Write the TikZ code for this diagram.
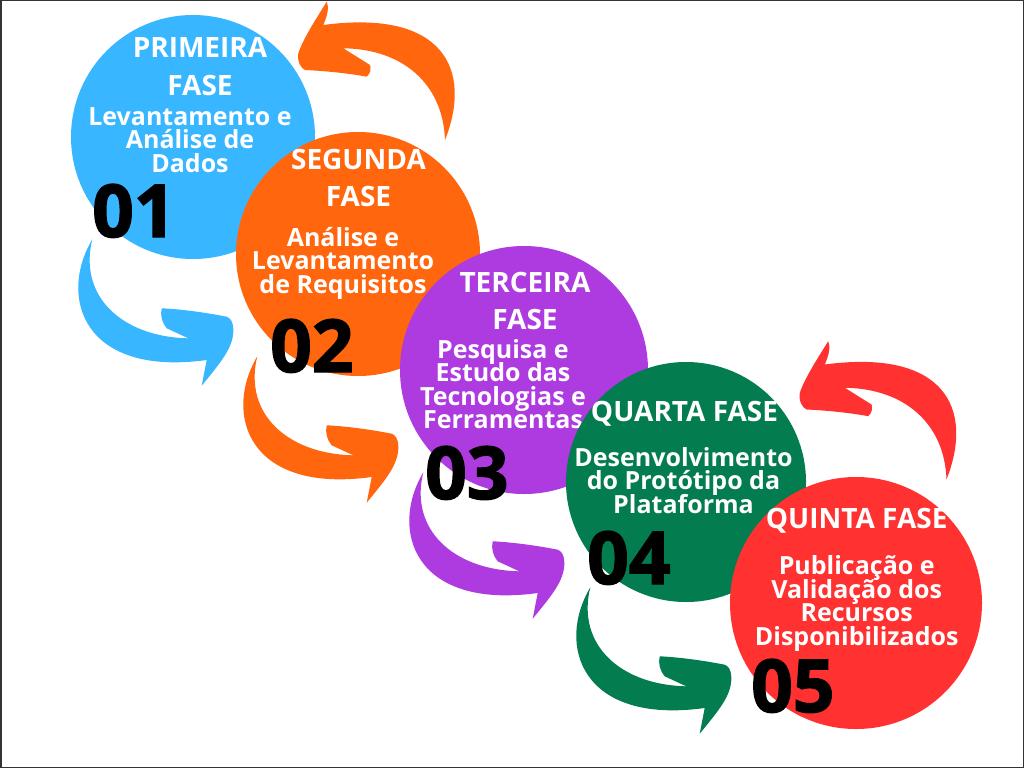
\documentclass[tikz,border=0pt]{standalone}
\usepackage{fontspec}
\setmainfont{Open Sans}
\newfontfamily\numfont[BoldFeatures={FakeBold=2}]{Open Sans}
\usepackage{tikz}
\usetikzlibrary{calc}
\definecolor{bluec}{HTML}{38B6FF}
\definecolor{orangec}{HTML}{FF660E}
\definecolor{purplec}{HTML}{AD3BE0}
\definecolor{greenc}{HTML}{037C4F}
\definecolor{redc}{HTML}{FF3131}
\definecolor{framec}{HTML}{333333}
\newcommand\titlefont{\fontsize{28}{37}\selectfont\lineskiplimit-40pt\bfseries}
\newcommand\bodyfont{\fontsize{25}{23.5}\selectfont\lineskiplimit-40pt\bfseries}
\tikzset{phase/.style={circle,minimum size=244pt,inner sep=0pt}}
\tikzset{title/.style={text=white,align=center,anchor=base,inner sep=0pt,font=\titlefont}}
\tikzset{body/.style={text=white,align=center,anchor=base,inner sep=0pt,font=\bodyfont}}
\tikzset{num/.style={anchor=base west,inner sep=0pt,
  font=\numfont\fontsize{73}{73}\selectfont\bfseries}}
\tikzset{downarrow/.pic={
  \fill[pic actions] (-100.7,102.3) .. controls (-135,160) and (-110,240) .. (13.7,223)
    -- (8.7,248.7) .. controls (28,225) and (41,210) .. (40.3,192)
    .. controls (40,184) and (37,181) .. (33.7,179.7)
    .. controls (10,175) and (-15,172) .. (-31.3,171.3)
    .. controls (-33,178) and (-31,186) .. (-26.3,191.3) -- (-4.7,201.3)
    .. controls (-70,200) and (-115,160) .. (-100.7,102.3) -- cycle;}}
\tikzset{backarrow/.pic={
  \fill[pic actions] (87,-114) .. controls (115,-185) and (85,-245) .. (-34.7,-229)
    .. controls (-30,-240) and (-29,-247) .. (-31.3,-252.3)
    .. controls (-42,-235) and (-55,-215) .. (-59.7,-200.7)
    .. controls (-61,-192) and (-57,-186) .. (-53,-184)
    .. controls (-30,-183) and (-5,-180) .. (8.7,-177.3)
    .. controls (13,-181) and (13,-186) .. (12,-189) -- (-14.7,-205.7)
    .. controls (45,-205) and (85,-170) .. (87,-114) -- cycle;}}

\begin{document}
\begin{tikzpicture}[x=1pt,y=-1pt]
\fill[white] (0,0) rectangle (1024,768);
\useasboundingbox (0,0) rectangle (1024,768);

\coordinate (c1) at (193,137);
\coordinate (c2) at (358,254);
\coordinate (c3) at (524,370);
\coordinate (c4) at (686,482);
\coordinate (c5) at (856,603);

\pic[fill=bluec] at (c1) {downarrow};
\pic[fill=orangec] at (c2) {downarrow};
\pic[fill=purplec] at (c3) {downarrow};
\pic[fill=greenc,shift={(5,3)}] at (c4) {downarrow};
\pic[fill=orangec] at (c2) {backarrow};
\pic[fill=redc,shift={(3.5,-9.5)}] at (c5) {backarrow};

\node[phase,fill=bluec] (f1) at (c1) {};
\node[title] (t1) at (200,95) {PRIMEIRA\\FASE};
\node[body] (b1) at (190,172) {Levantamento e\\Análise de\\Dados};
\node[num] (n1) at (92,237) {01};

\node[phase,fill=orangec] (f2) at (c2) {};
\node[title] (t2) at (358.5,206.7) {SEGUNDA\\FASE};
\node[body] (b2) at (343,293) {Análise e\\Levantamento\\de Requisitos};
\node[num] (n2) at (270,372) {02};

\node[phase,fill=purplec,minimum size=248pt] (f3) at (c3) {};
\node[title] (t3) at (525,329) {TERCEIRA\\FASE};
\node[body] (b3) at (503,428.5) {Pesquisa e\\Estudo das\\Tecnologias e\\Ferramentas};
\node[num] (n3) at (425,499) {03};

\node[phase,fill=greenc,minimum size=240pt] (f4) at (c4) {};
\node[title] (t4) at (684.5,421.7) {QUARTA FASE};
\node[body] (b4) at (683.5,513) {Desenvolvimento\\do Protótipo da\\Plataforma};
\node[num] (n4) at (587,584) {04};

\node[phase,fill=redc,minimum size=252pt] (f5) at (c5) {};
\node[title] (t5) at (856.7,528.3) {QUINTA FASE};
\node[body] (b5) at (856.7,645.2) {Publicação e\\Validação dos\\Recursos\\Disponibilizados};
\node[num] (n5) at (751,712) {05};

\draw[framec,line width=1.5pt] (0.75,0.75) rectangle (1023.25,767.25);
\end{tikzpicture}
\end{document}
